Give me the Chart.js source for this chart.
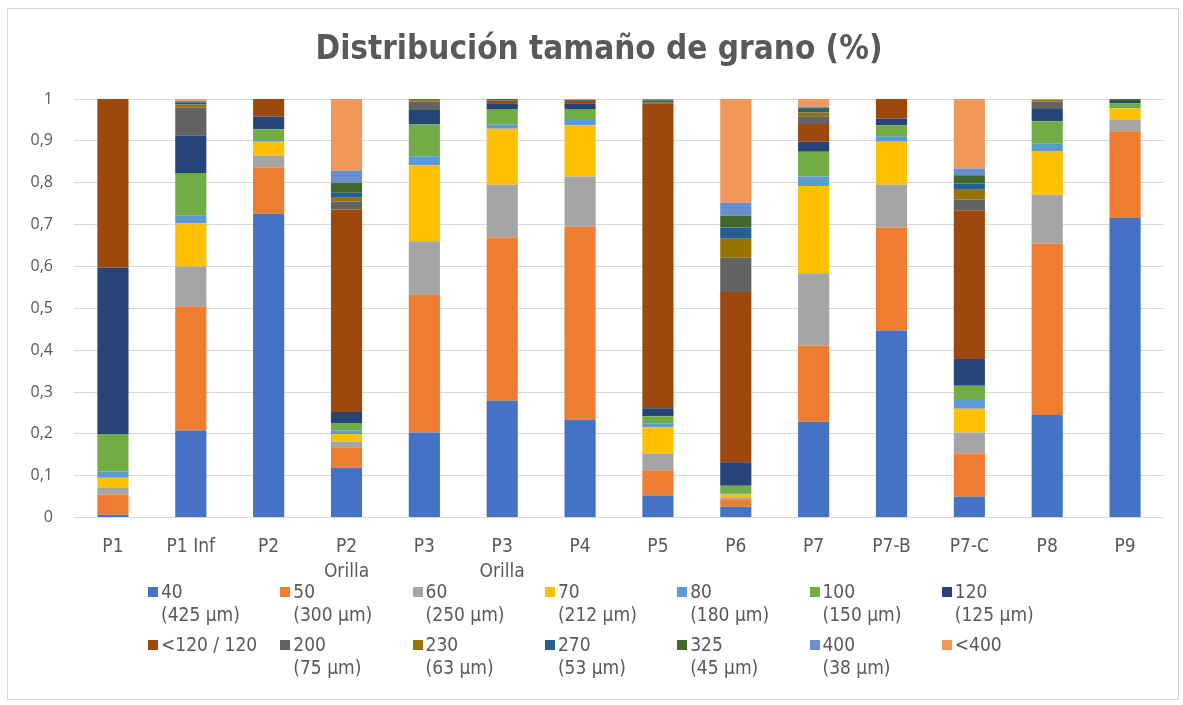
<!DOCTYPE html>
<html>
<head>
<meta charset="utf-8">
<script src="https://cdn.jsdelivr.net/npm/chart.js@4.4.1/dist/chart.umd.min.js"></script>
<style>
  html, body { margin: 0; padding: 0; background: #fff; }
  #frame { position: absolute; left: 7px; top: 8px; width: 1172px; height: 692px; border: 1px solid #D9D9D9; box-sizing: border-box; }
  #wrap { position: absolute; left: 0; top: 0; width: 1183px; height: 593px; }
  #legend { position: absolute; left: 0; top: 0; width: 1183px; height: 705px; pointer-events: none; }
  .item { position: absolute; font-family: "Liberation Sans Narrow", "DejaVu Sans Condensed", "Liberation Sans", sans-serif; font-size: 19px; color: #595959; line-height: 23px; }
  .sw { position: absolute; left: 0; top: 7px; width: 10px; height: 10px; }
  .txt { position: absolute; left: 13px; top: 0; white-space: nowrap; }
</style>
</head>
<body>
<div id="frame"></div>
<div id="wrap"><canvas id="grainChart"></canvas></div>
<div id="legend"></div>
<script>
const chartTitle = 'Distribución tamaño de grano (%)';

const categories = [['P1'], ['P1 Inf'], ['P2'], ['P2', 'Orilla'], ['P3'], ['P3', 'Orilla'], ['P4'], ['P5'], ['P6'], ['P7'], ['P7-B'], ['P7-C'], ['P8'], ['P9']];

const seriesNames = [
    ['40', '(425 µm)'], ['50', '(300 µm)'], ['60', '(250 µm)'], ['70', '(212 µm)'],
    ['80', '(180 µm)'], ['100', '(150 µm)'], ['120', '(125 µm)'], ['<120 / 120'],
    ['200', '(75 µm)'], ['230', '(63 µm)'], ['270', '(53 µm)'], ['325', '(45 µm)'],
    ['400', '(38 µm)'], ['<400']
];

const seriesColors = ['#4472C4', '#ED7D31', '#A5A5A5', '#FFC000', '#5B9BD5', '#70AD47', '#264478',
    '#9E480E', '#636363', '#997300', '#255E91', '#43682B', '#698ED0', '#F1975A'];

// fraction of each mesh, per sample point
const s40   = [0.007, 0.208, 0.726, 0.119, 0.203, 0.279, 0.234, 0.053, 0.026, 0.229, 0.447, 0.050, 0.245, 0.716];
const s50   = [0.048, 0.297, 0.110, 0.049, 0.329, 0.390, 0.461, 0.060, 0.016, 0.182, 0.246, 0.103, 0.410, 0.207];
const s60   = [0.016, 0.095, 0.029, 0.014, 0.128, 0.126, 0.120, 0.040, 0.005, 0.173, 0.102, 0.050, 0.116, 0.027];
const s70   = [0.024, 0.103, 0.033, 0.018, 0.182, 0.134, 0.122, 0.062, 0.008, 0.208, 0.103, 0.057, 0.105, 0.028];
const s80   = [0.015, 0.018, 0.004, 0.008, 0.021, 0.010, 0.013, 0.009, 0.002, 0.023, 0.013, 0.021, 0.017, 0.003];
const s100  = [0.090, 0.102, 0.026, 0.018, 0.076, 0.037, 0.026, 0.018, 0.019, 0.059, 0.026, 0.034, 0.054, 0.008];
const s120  = [0.397, 0.090, 0.030, 0.026, 0.035, 0.014, 0.014, 0.019, 0.056, 0.024, 0.016, 0.064, 0.029, 0.006];
const sLt120 = [0.403, 0, 0.042, 0.484, 0, 0.005, 0.005, 0.729, 0.407, 0.042, 0.047, 0.355, 0, 0];
const s200  = [0, 0.066, 0, 0.019, 0.020, 0.002, 0.003, 0.002, 0.082, 0.019, 0, 0.026, 0.018, 0];
const s230  = [0, 0.008, 0, 0.009, 0.004, 0, 0, 0, 0.045, 0.009, 0, 0.023, 0.004, 0];
const s270  = [0, 0.005, 0, 0.012, 0, 0, 0, 0, 0.027, 0.006, 0, 0.015, 0, 0];
const s325  = [0, 0.002, 0, 0.024, 0.002, 0.003, 0, 0.005, 0.028, 0.005, 0, 0.020, 0, 0.005];
const s400  = [0, 0.002, 0, 0.029, 0, 0, 0, 0.003, 0.031, 0.003, 0, 0.016, 0, 0];
const sLt400 = [0, 0.004, 0, 0.171, 0, 0, 0.002, 0, 0.248, 0.018, 0, 0.166, 0.002, 0];

const seriesValues = [s40, s50, s60, s70, s80, s100, s120, sLt120, s200, s230, s270, s325, s400, sLt400];

const yTicks = [0, 0.1, 0.2, 0.3, 0.4, 0.5, 0.6, 0.7, 0.8, 0.9, 1];

const labelFont = '"Liberation Sans Narrow", "DejaVu Sans Condensed", "Liberation Sans", sans-serif';

// title drawn centred on the whole frame, like Excel does
const titlePlugin = {
    id: 'frameTitle',
    afterDraw(chart) {
        const ctx = chart.ctx;
        ctx.save();
        ctx.font = 'bold 33px ' + labelFont;
        ctx.fillStyle = '#595959';
        ctx.textAlign = 'center';
        ctx.textBaseline = 'middle';
        ctx.fillText(chartTitle, 599, 50);
        ctx.restore();
    }
};

new Chart(document.getElementById('grainChart'), {
    type: 'bar',
    data: {
        labels: categories,
        datasets: seriesValues.map((vals, i) => ({
            label: seriesNames[i].join(' '),
            data: vals,
            backgroundColor: seriesColors[i],
            borderWidth: 0,
            categoryPercentage: 1,
            barPercentage: 0.4
        }))
    },
    plugins: [titlePlugin],
    options: {
        responsive: true,
        maintainAspectRatio: false,
        animation: false,
        layout: { padding: { left: 0, right: 19, top: 99, bottom: 0 } },
        plugins: {
            legend: { display: false },
            tooltip: { enabled: false },
            title: { display: false }
        },
        scales: {
            x: {
                stacked: true,
                grid: { display: false },
                border: { display: false },
                ticks: {
                    color: '#595959',
                    font: { family: labelFont, size: 19, lineHeight: 1.3 },
                    padding: 9,
                    maxRotation: 0,
                    autoSkip: false
                }
            },
            y: {
                stacked: true,
                min: 0,
                max: 1,
                afterFit: s => { s.width = 74; },
                afterBuildTicks: s => { s.ticks = yTicks.map(v => ({ value: v })); },
                grid: { color: '#D9D9D9', lineWidth: 1, drawTicks: false },
                border: { display: false },
                ticks: {
                    color: '#595959',
                    padding: 21,
                    font: { family: '"Open Sans", sans-serif', size: 16 },
                    callback: v => (v === 0 || v === 1) ? String(v) : v.toFixed(1).replace('.', ',')
                }
            }
        }
    }
});

// legend: two rows of seven, multi-line labels
const legend = document.getElementById('legend');
seriesNames.forEach((name, i) => {
    const col = i % 7, row = Math.floor(i / 7);
    const item = document.createElement('div');
    item.className = 'item';
    item.style.left = (148 + col * 132.3) + 'px';
    item.style.top = (580 + row * 53) + 'px';
    const sw = document.createElement('div');
    sw.className = 'sw';
    sw.style.background = seriesColors[i];
    const txt = document.createElement('div');
    txt.className = 'txt';
    txt.innerHTML = name.map(t => t.replace('<', '&lt;')).join('<br>');
    item.appendChild(sw);
    item.appendChild(txt);
    legend.appendChild(item);
});
</script>
</body>
</html>
